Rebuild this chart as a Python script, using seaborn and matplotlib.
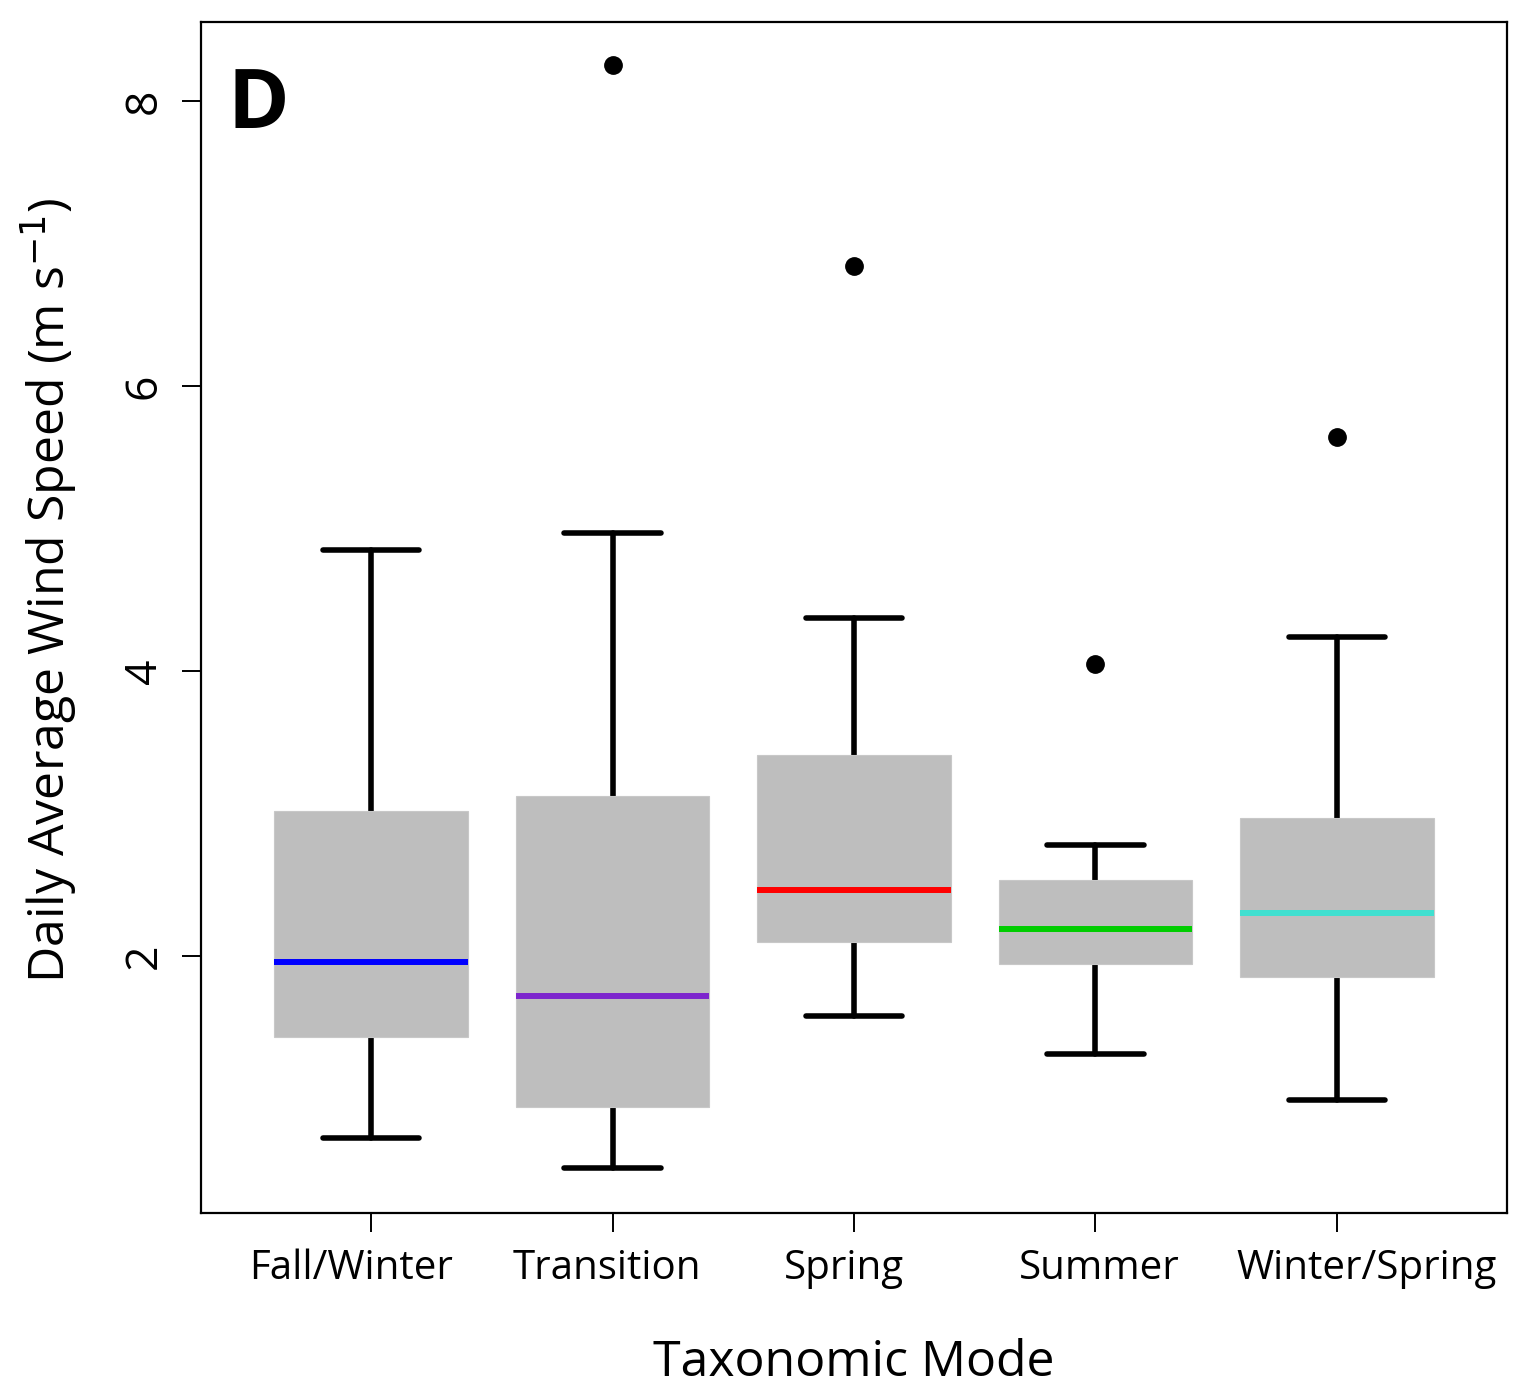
import numpy as np
import pandas as pd
import matplotlib
matplotlib.use("Agg")
import matplotlib.pyplot as plt
import matplotlib.transforms as mtransforms
import seaborn as sns

# ---- data ----
categories = ["Fall/Winter", "Transition", "Spring", "Summer", "Winter/Spring"]
whisker_low = [0.72, 0.51, 1.58, 1.31, 0.99]
q1 = [1.43, 0.94, 2.10, 1.94, 1.85]
medians = [1.96, 1.72, 2.46, 2.19, 2.30]
q3 = [3.02, 3.12, 3.41, 2.53, 2.97]
whisker_high = [4.85, 4.97, 4.37, 2.78, 4.24]
outliers = [None, 8.25, 6.84, 4.05, 5.64]
median_colors = ["#0000FF", "#7D26CD", "#FF0000", "#00CD00", "#40E0D0"]

# Build per-group samples whose quartiles/whiskers reproduce the summary values
rows = []
for i, cat in enumerate(categories):
    if outliers[i] is None:
        vals = [whisker_low[i], q1[i], q1[i], medians[i], medians[i], medians[i],
                q3[i], q3[i], whisker_high[i]]
    else:
        vals = [whisker_low[i], q1[i], q1[i], medians[i], medians[i], medians[i],
                q3[i], whisker_high[i], outliers[i]]
    for v in vals:
        rows.append({"mode": cat, "speed": v})
df = pd.DataFrame(rows)

sns.set_style("ticks")
plt.rcParams["font.family"] = ["Open Sans", "DejaVu Sans"]
plt.rcParams["text.color"] = "black"
plt.rcParams["axes.labelcolor"] = "black"
plt.rcParams["xtick.color"] = "black"
plt.rcParams["ytick.color"] = "black"

fig = plt.figure(figsize=(15.18, 13.88), dpi=100)
ax = fig.add_axes([201 / 1518, 1 - 1213 / 1388, 1306 / 1518, 1191 / 1388])

sns.boxplot(data=df, x="mode", y="speed", order=categories, ax=ax,
            color="#BEBEBE", saturation=1, linecolor="black", linewidth=4.0,
            width=0.8, whis=1.5, fliersize=12.5,
            flierprops={"marker": "o", "markerfacecolor": "black",
                        "markeredgecolor": "black"})

cont = ax.containers[0]
for patch in cont.boxes:
    patch.set_edgecolor("#C8C8C8")
    patch.set_linewidth(0.8)
    patch.set_zorder(2)
for ln in list(cont.whiskers) + list(cont.caps):
    ln.set_solid_capstyle("round")
    ln.set_linewidth(4.0)
    ln.set_zorder(1.5)
for ln, c in zip(cont.medians, median_colors):
    ln.set_color(c)
    ln.set_linewidth(4.3)
    ln.set_solid_capstyle("butt")
    ln.set_zorder(3)

ax.set_xlim(-0.704, 4.704)
ax.set_ylim(0.196, 8.554)
ax.set_yticks([2, 4, 6, 8])
ax.set_yticklabels(["2", "4", "6", "8"], rotation=90, va="center")

for s in ax.spines.values():
    s.set_visible(True)
    s.set_color("black")
    s.set_linewidth(1.6)

ax.tick_params(axis="both", direction="out", length=13.5, width=1.4, colors="black")
ax.tick_params(axis="x", pad=12, labelsize=29)
ax.tick_params(axis="y", pad=11, labelsize=32)

# small horizontal shifts of the category labels, as in the reference layout
label_shifts_px = [-20, -6, -10, 4, 30]
for lab, dx in zip(ax.get_xticklabels(), label_shifts_px):
    lab.set_transform(lab.get_transform() +
                      mtransforms.ScaledTranslation(dx / 100, 0, fig.dpi_scale_trans))

ax.set_xlabel("Taxonomic Mode", fontsize=36, labelpad=36)
ax.set_ylabel("Daily Average Wind Speed (m s$^{-1}$)", fontsize=36)
ax.yaxis.set_label_coords(-0.093, 0.523)

ax.text(0.020, 0.911, "D", transform=ax.transAxes, fontsize=60,
        fontweight="bold", va="baseline", ha="left", color="black")

fig.savefig("out.png", dpi=100)
